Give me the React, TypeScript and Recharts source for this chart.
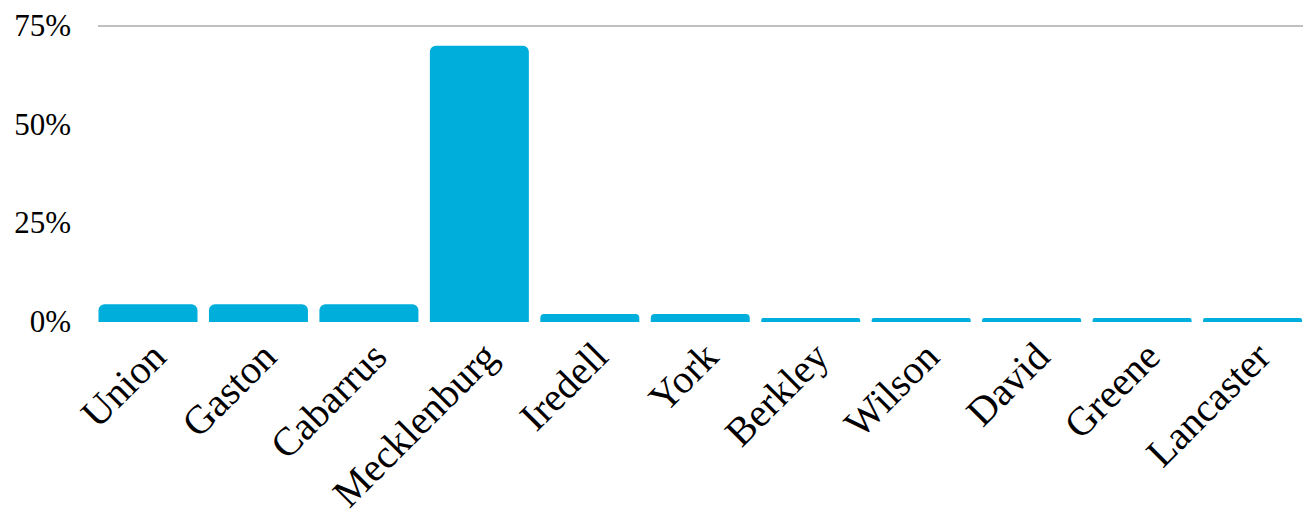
import React from 'react';
import { BarChart, Bar, XAxis, YAxis, ReferenceLine } from 'recharts';

const counties = ['Union', 'Gaston', 'Cabarrus', 'Mecklenburg', 'Iredell', 'York', 'Berkley', 'Wilson', 'David', 'Greene', 'Lancaster'];
const shares = [4.5, 4.5, 4.5, 70, 2, 2, 1, 1, 1, 1, 1];
const yTicks = [0, 25, 50, 75];

const data = counties.map((name, i) => ({ name, share: shares[i] }));

const FONT = 'Liberation Serif, serif';

const CountyTick = (props: any) => {
  const { x, y, payload } = props;
  return (
    <g transform={`translate(${x + 20},${y + 29})`}>
      <text
        x={0}
        y={0}
        textAnchor="end"
        transform="rotate(-45)"
        fontFamily={FONT}
        fontSize={40}
        fill="#000"
      >
        {payload.value}
      </text>
    </g>
  );
};

const PercentTick = (props: any) => {
  const { x, y, payload } = props;
  return (
    <text x={x} y={y} dy={10} textAnchor="end" fontFamily={FONT} fontSize={31} fill="#000">
      {`${payload.value}%`}
    </text>
  );
};

export default function App() {
  return (
    <div style={{ position: 'absolute', left: 0, top: 0, background: '#fff' }}>
      <BarChart
        width={1308}
        height={520}
        data={data}
        margin={{ top: 26, right: 5, bottom: 0, left: 0 }}
        barCategoryGap={5.5}
      >
        <XAxis
          dataKey="name"
          axisLine={false}
          tickLine={false}
          interval={0}
          height={198}
          padding={{ left: -5, right: -5 }}
          tick={<CountyTick />}
        />
        <YAxis
          width={98}
          domain={[0, 75]}
          ticks={yTicks}
          axisLine={false}
          tickLine={false}
          tickMargin={21}
          tick={<PercentTick />}
        />
        <ReferenceLine y={75} stroke="#c0c0c0" strokeWidth={2} />
        <Bar dataKey="share" fill="#00aedc" radius={[6, 6, 0, 0]} isAnimationActive={false} />
      </BarChart>
    </div>
  );
}
